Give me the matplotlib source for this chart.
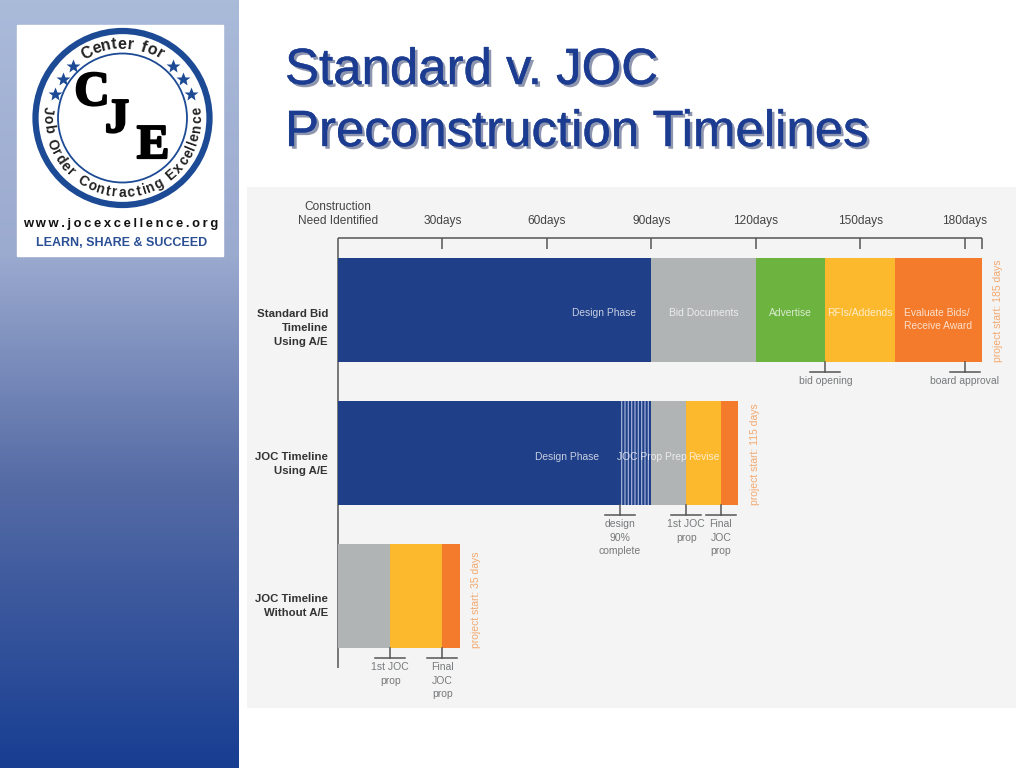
import numpy as np
import matplotlib
matplotlib.use("Agg")
import matplotlib.pyplot as plt
import matplotlib.patheffects as pe
from matplotlib.colors import LinearSegmentedColormap
from matplotlib.font_manager import FontProperties
from matplotlib.patches import Circle
from matplotlib.textpath import TextPath

plt.rcParams['font.family'] = ['Liberation Sans', 'DejaVu Sans']
plt.rcParams['hatch.linewidth'] = 0.9

# chart data, all in days
tick_days = [30, 60, 90, 120, 150, 180]
tick_labels = ["30days", "60days", "90days", "120days", "150days", "180days"]
end_day = 185

standard_days = [90, 30, 20, 20, 25]
standard_colors = ["#1F3F88", "#B1B4B5", "#6CB33F", "#FDB92E", "#F47B2B"]
standard_labels = ["", "Bid Documents", "Advertise", "RFIs/Addends", "Evaluate Bids/\nReceive Award"]

joc_ae_days = [81, 9, 10, 10, 5]
joc_ae_colors = ["#1F3F88", "#1F3F88", "#B1B4B5", "#FDB92E", "#F47B2B"]
joc_ae_labels = ["", "", "", "Revise", ""]

joc_days = [15, 15, 5]
joc_colors = ["#B1B4B5", "#FDB92E", "#F47B2B"]

row_names = ["Standard Bid\nTimeline\nUsing A/E", "JOC Timeline\nUsing A/E", "JOC Timeline\nWithout A/E"]
row_totals = ["project start: 185 days", "project start: 115 days", "project start: 35 days"]

# day, row, label
callouts = [
    (140, 0, "bid opening"),
    (180, 0, "board approval"),
    (81, 1, "design\n90%\ncomplete"),
    (100, 1, "1st JOC\nprop"),
    (110, 1, "Final\nJOC\nprop"),
    (15, 2, "1st JOC\nprop"),
    (30, 2, "Final\nJOC\nprop"),
]

W, H = 1024, 768
fig = plt.figure(figsize=(W / 100, H / 100), dpi=100, facecolor="white")

# slide layer, in pixels
bg = fig.add_axes([0, 0, 1, 1])
bg.axis("off")

side_cmap = LinearSegmentedColormap.from_list("side", [
    (0, "#AABAD9"), (0.33, "#9BAACF"), (0.63, "#556BA5"), (1, "#183E92")])
bg.imshow(np.linspace(0, 1, 256)[:, None], cmap=side_cmap, extent=[0, 239, H, 0], aspect="auto", zorder=0)
bg.set_xlim(0, W)
bg.set_ylim(H, 0)

# title with shadow
title_fx = [pe.SimplePatchShadow(offset=(2, -2), shadow_rgbFace="#8E95AE", alpha=1),
            pe.Stroke(linewidth=0.3, foreground="#1B3C90"), pe.Normal()]
bg.text(285, 84, "Standard v. JOC", fontsize=36.7, color="#1B3C90", path_effects=title_fx, zorder=3)
bg.text(285, 146, "Preconstruction Timelines", fontsize=36.7, color="#1B3C90", path_effects=title_fx, zorder=3)

# logo
bg.fill([17, 223, 223, 17], [25, 25, 256, 256], color="white", zorder=1)
cx, cy = 122.5, 118
bg.add_patch(Circle((cx, cy), 87, fill=False, ec="#1D4A94", lw=4.5, zorder=2))
bg.add_patch(Circle((cx, cy), 64.5, fill=False, ec="#1D4A94", lw=1.3, zorder=2))


def ring_angles(text, size, start, end):
    # spread the letters along the arc by their own widths
    prop = FontProperties(family="Liberation Sans", weight="bold")
    widths = []
    for ch in text:
        if ch == " ":
            widths.append(size * 0.5)
        else:
            widths.append(TextPath((0, 0), ch, size=size, prop=prop).get_extents().width + size * 0.22)
    widths = np.array(widths)
    mids = np.cumsum(widths) - widths / 2
    return start + (end - start) * mids / widths.sum()


for ch, a in zip("Center for", ring_angles("Center for", 11.5, -33, 33)):
    a = np.radians(a)
    bg.text(cx + 74 * np.sin(a), cy - 74 * np.cos(a), ch, rotation=-np.degrees(a),
            fontsize=11.5, fontweight="bold", color="#222222",
            ha="center", va="center", rotation_mode="anchor", zorder=3)

ring_text = "Job Order Contracting Excellence"
for ch, a in zip(ring_text, ring_angles(ring_text, 10, -99, 99)):
    a = np.radians(a)
    bg.text(cx + 75 * np.sin(a), cy + 75 * np.cos(a), ch, rotation=np.degrees(a),
            fontsize=10, fontweight="bold", color="#222222",
            ha="center", va="center", rotation_mode="anchor", zorder=3)

for sx in [-1, 1]:
    for dx, dy in [(50, -52), (60, -39), (68, -24)]:
        bg.plot(cx + sx * dx, cy + dy, marker="*", ms=10, color="#1D4A94", mec="none", zorder=3)

for ch, x, y in [("C", 92, 105), ("J", 117, 132), ("E", 153, 158)]:
    bg.text(x, y, ch, fontsize=35, fontweight="bold", family="Liberation Serif", color="black",
            ha="center", va="baseline", zorder=3,
            path_effects=[pe.Stroke(linewidth=1.6, foreground="black"), pe.Normal()])

url = "www.jocexcellence.org"
bg.text(121, 224.5, "\u2009".join(url), fontsize=9.4, fontweight="bold", color="#111111",
        ha="center", va="center", zorder=3)
bg.text(121.5, 243, "LEARN, SHARE & SUCCEED", fontsize=9, fontweight="bold", color="#2A4F94",
        ha="center", va="center", zorder=3)

# chart panel: x in days, y in pixels of the slide
px_per_day = 644 / end_day
px0 = 338
pl, pr, pt, pb = 247, 1016, 187, 708
ax = fig.add_axes([pl / W, 1 - pb / H, (pr - pl) / W, (pb - pt) / H], facecolor="#F4F4F4")
ax.set_xlim((pl - px0) / px_per_day, (pr - px0) / px_per_day)
ax.set_ylim(pb, pt)
ax.set_xticks([])
ax.set_yticks([])
for s in ax.spines.values():
    s.set_visible(False)

row_top = [258, 401, 544]
row_label_y = [328, 464, 606]
bar_h = 104
line_col = "#555555"
dark = "#444444"
grey_txt = "#77797B"
seg_fs = 7.4

# time axis
ax.plot([0, end_day], [238, 238], color=line_col, lw=1.1, solid_capstyle="butt")
ax.plot([0, 0], [238, 668], color=line_col, lw=1.1, solid_capstyle="butt", zorder=1)
ax.vlines(tick_days, 238, 249, color=line_col, lw=1.1)
ax.vlines(end_day, 238, 249, color=line_col, lw=1.1)
for d, lab in zip(tick_days, tick_labels):
    ax.text(d, 221, lab, fontsize=8.6, color=dark, ha="center", va="center")
ax.text(0, 214, "Construction\nNeed Identified", fontsize=8.6, color=dark, ha="center",
        va="center", ma="center", linespacing=1.25)

rows = [
    (standard_days, standard_colors, standard_labels),
    (joc_ae_days, joc_ae_colors, joc_ae_labels),
    (joc_days, joc_colors, [""] * len(joc_days)),
]
for r, (days, colors, labels) in enumerate(rows):
    y_mid = row_top[r] + bar_h / 2
    lefts = np.concatenate([[0], np.cumsum(days)[:-1]])
    ax.barh(y_mid, days, left=lefts, height=bar_h, color=colors, lw=0, zorder=2)
    for d, left, lab in zip(days, lefts, labels):
        if lab:
            ty = y_mid + (9.5 if "\n" in lab else 3.5)
            ax.text(left + d / 2, ty, lab, fontsize=seg_fs, color="white", alpha=0.75, ha="center",
                    va="center", ma="left", linespacing=1.35, zorder=4)
    ax.text(-2.9, row_label_y[r], row_names[r], fontsize=8.2, fontweight="bold", color="#333333",
            ha="right", va="center", ma="right", linespacing=1.45)
    ax.text(sum(days) + 3.3, row_top[r] + bar_h, row_totals[r], fontsize=7.5, color="#F3A96F",
            rotation=90, ha="left", va="bottom")

# labels that do not sit in the middle of their segment
for x_day, r, lab in [(76.4, 0, "Design Phase"), (65.8, 1, "Design Phase"), (90.2, 1, "JOC Prop Prep")]:
    ax.text(x_day, row_top[r] + bar_h / 2 + 3.5, lab, fontsize=seg_fs, color="white", alpha=0.75,
            ha="center", va="center", zorder=4)

# striped part of the JOC design phase
ax.barh(row_top[1] + bar_h / 2, joc_ae_days[1], left=joc_ae_days[0], height=bar_h,
        facecolor="none", edgecolor="#9FB0D6", hatch="|||||", lw=0, zorder=3)

# callouts under the bars
half_tee = 15 / px_per_day
for d, r, lab in callouts:
    y0 = row_top[r] + bar_h
    ax.plot([d, d], [y0, y0 + 10], color=line_col, lw=1.1, zorder=3)
    ax.plot([d - half_tee, d + half_tee], [y0 + 10, y0 + 10], color=line_col, lw=1.1)
    ax.text(d, y0 + 14, lab, fontsize=7.5, color=grey_txt, ha="center", va="top", ma="center",
            linespacing=1.45)

fig.savefig("out.png", dpi=100)
